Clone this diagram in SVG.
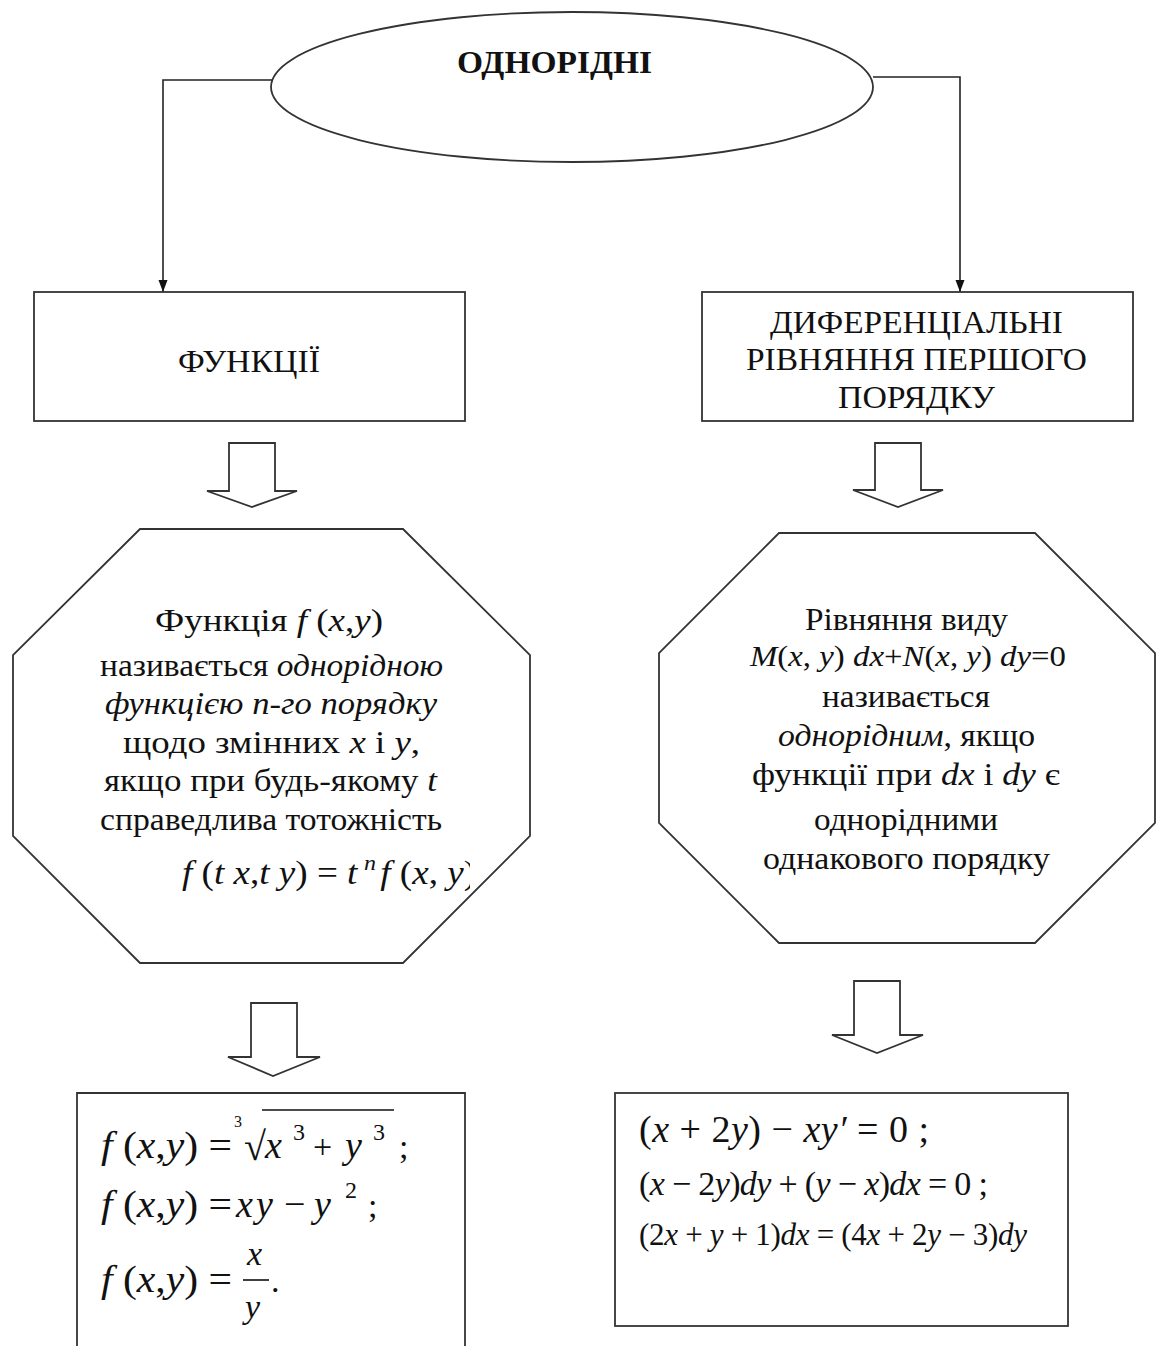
<svg xmlns="http://www.w3.org/2000/svg" width="1156" height="1346" viewBox="0 0 1156 1346">
<style>
.shape{fill:#fff;stroke:#333;stroke-width:1.8}
.conn{fill:none;stroke:#222;stroke-width:1.6}
.t{font-family:"Liberation Serif","Times New Roman",serif;fill:#111}
.c{text-anchor:middle}
.i{font-style:italic}
.b{font-size:32px}
</style>
<defs>
<marker id="arr" markerWidth="12" markerHeight="16" refX="16" refY="6" orient="auto" markerUnits="userSpaceOnUse" viewBox="0 0 16 12">
<path d="M0,0 L16,6 L0,12 Z" fill="#111"/>
</marker>
<clipPath id="clipL"><rect x="0" y="840" width="470" height="60"/></clipPath>
</defs>
<rect width="1156" height="1346" fill="#fff"/>

<g id="connectors">
<path class="conn" d="M272,80 L163,80 L163,292" marker-end="url(#arr)"/>
<path class="conn" d="M873,77 L960,77 L960,292" marker-end="url(#arr)"/>
<path id="blockArrow1" class="shape" d="M229,443 L275,443 L275,491 L297,491 L252,507 L207,491 L229,491 Z"/>
<path id="blockArrow2" class="shape" d="M875,443 L921,443 L921,490 L943,490 L898,507 L853,490 L875,490 Z"/>
<path id="blockArrow3" class="shape" d="M251,1003 L297,1003 L297,1057 L320,1057 L273,1076 L228,1057 L251,1057 Z"/>
<path id="blockArrow4" class="shape" d="M854,981 L900,981 L900,1035 L923,1035 L877,1053 L832,1035 L854,1035 Z"/>
</g>

<g id="node-root">
<ellipse class="shape" cx="572" cy="87" rx="301" ry="75"/>
<text class="t" x="457" y="73" font-size="32" font-weight="bold" textLength="195" lengthAdjust="spacingAndGlyphs">ОДНОРІДНІ</text>
</g>

<g id="node-functions">
<rect class="shape" x="34" y="292" width="431" height="129"/>
<text class="t" x="178" y="372" font-size="31" textLength="142" lengthAdjust="spacingAndGlyphs">ФУНКЦІЇ</text>
</g>

<g id="node-equations">
<rect class="shape" x="702" y="292" width="431" height="129"/>
<text class="t" x="770" y="333" font-size="31" textLength="293" lengthAdjust="spacingAndGlyphs">ДИФЕРЕНЦІАЛЬНІ</text>
<text class="t" x="746" y="370" font-size="31" textLength="341" lengthAdjust="spacingAndGlyphs">РІВНЯННЯ ПЕРШОГО</text>
<text class="t" x="838" y="408" font-size="31" textLength="157" lengthAdjust="spacingAndGlyphs">ПОРЯДКУ</text>
</g>

<g id="node-func-def">
<polygon class="shape" points="140,529 403,529 530,655 530,836 403,963 140,963 13,836 13,655"/>
<text class="t b" x="155" y="631" textLength="228" lengthAdjust="spacingAndGlyphs">Функція  <tspan class="i">f</tspan> (<tspan class="i">x</tspan>,<tspan class="i">y</tspan>)</text>
<text class="t b" x="100" y="676" textLength="343" lengthAdjust="spacingAndGlyphs">називається <tspan class="i">однорідною</tspan></text>
<text class="t b i" x="105" y="714" textLength="332" lengthAdjust="spacingAndGlyphs">функцією  n-го порядку</text>
<text class="t b" x="123" y="753" textLength="297" lengthAdjust="spacingAndGlyphs">щодо змінних  <tspan class="i">x</tspan>  і  <tspan class="i">y</tspan>,</text>
<text class="t b" x="104" y="791" textLength="333" lengthAdjust="spacingAndGlyphs">якщо при будь-якому  <tspan class="i">t</tspan></text>
<text class="t b" x="100" y="830" textLength="342" lengthAdjust="spacingAndGlyphs">справедлива тотожність</text>
<g clip-path="url(#clipL)">
<text class="t" x="182" y="884" font-size="34" textLength="294" lengthAdjust="spacingAndGlyphs"><tspan class="i">f</tspan> (<tspan class="i">t x</tspan>,<tspan class="i">t y</tspan>) = <tspan class="i">t</tspan><tspan class="i" font-size="22" dy="-14" dx="6">n</tspan><tspan class="i" dy="14" dx="4">f</tspan> (<tspan class="i">x</tspan>,<tspan class="i"> y</tspan>)</text>
</g>
</g>

<g id="node-eq-def">
<polygon class="shape" points="779,533 1035,533 1155,653 1155,823 1035,943 779,943 659,823 659,653"/>
<text class="t b" x="805" y="630" textLength="203" lengthAdjust="spacingAndGlyphs">Рівняння виду</text>
<text class="t" x="750" y="666" font-size="30" textLength="316" lengthAdjust="spacingAndGlyphs"><tspan class="i">M</tspan>(<tspan class="i">x</tspan>, <tspan class="i">y</tspan>) <tspan class="i">dx</tspan>+<tspan class="i">N</tspan>(<tspan class="i">x</tspan>, <tspan class="i">y</tspan>) <tspan class="i">dy</tspan>=0</text>
<text class="t b" x="822" y="707" textLength="168" lengthAdjust="spacingAndGlyphs">називається</text>
<text class="t b" x="778" y="746" textLength="257" lengthAdjust="spacingAndGlyphs"><tspan class="i">однорідним</tspan>, якщо</text>
<text class="t b" x="752" y="785" textLength="308" lengthAdjust="spacingAndGlyphs">функції при  <tspan class="i">dx</tspan>  і  <tspan class="i">dy</tspan>  є</text>
<text class="t b" x="814" y="830" textLength="184" lengthAdjust="spacingAndGlyphs">однорідними</text>
<text class="t b" x="763" y="869" textLength="287" lengthAdjust="spacingAndGlyphs">однакового порядку</text>
</g>

<g id="node-func-examples">
<path class="shape" d="M77,1346 L77,1093 L465,1093 L465,1346"/>
<text class="t" x="101" y="1158" font-size="38" textLength="131" lengthAdjust="spacingAndGlyphs"><tspan class="i">f</tspan> (<tspan class="i">x</tspan>,<tspan class="i">y</tspan>) =</text>
<text class="t" x="234" y="1127" font-size="16">3</text>
<text class="t" x="244" y="1160" font-size="40">√</text>
<line x1="262" y1="1110" x2="394" y2="1110" stroke="#111" stroke-width="1.6"/>
<text class="t i" x="265" y="1158" font-size="38">x</text>
<text class="t" x="293" y="1140" font-size="24">3</text>
<text class="t" x="313" y="1158" font-size="34">+</text>
<text class="t i" x="345" y="1158" font-size="38">y</text>
<text class="t" x="373" y="1140" font-size="24">3</text>
<text class="t" x="399" y="1158" font-size="34">;</text>
<text class="t" x="101" y="1217" font-size="38" textLength="131" lengthAdjust="spacingAndGlyphs"><tspan class="i">f</tspan> (<tspan class="i">x</tspan>,<tspan class="i">y</tspan>) =</text>
<text class="t i" x="236" y="1217" font-size="38">x</text>
<text class="t i" x="256" y="1217" font-size="38">y</text>
<text class="t" x="284" y="1217" font-size="38">−</text>
<text class="t i" x="314" y="1217" font-size="38">y</text>
<text class="t" x="345" y="1198" font-size="24">2</text>
<text class="t" x="368" y="1217" font-size="34">;</text>
<text class="t" x="101" y="1292" font-size="38" textLength="131" lengthAdjust="spacingAndGlyphs"><tspan class="i">f</tspan> (<tspan class="i">x</tspan>,<tspan class="i">y</tspan>) =</text>
<text class="t i" x="247" y="1265" font-size="34">x</text>
<line x1="243" y1="1280" x2="269" y2="1280" stroke="#111" stroke-width="1.6"/>
<text class="t i" x="245" y="1318" font-size="34">y</text>
<text class="t" x="271" y="1292" font-size="34">.</text>
</g>

<g id="node-eq-examples">
<rect class="shape" x="615" y="1093" width="453" height="233"/>
<text class="t" x="639" y="1142" font-size="38" textLength="290" lengthAdjust="spacing">(<tspan class="i">x</tspan> + 2<tspan class="i">y</tspan>) − <tspan class="i">xy′</tspan> = 0 ;</text>
<text class="t" x="639" y="1195" font-size="34" textLength="349" lengthAdjust="spacing">(<tspan class="i">x</tspan> − 2<tspan class="i">y</tspan>)<tspan class="i">dy</tspan> + (<tspan class="i">y</tspan> − <tspan class="i">x</tspan>)<tspan class="i">dx</tspan> = 0 ;</text>
<text class="t" x="639" y="1245" font-size="31" textLength="388" lengthAdjust="spacing">(2<tspan class="i">x</tspan> + <tspan class="i">y</tspan> + 1)<tspan class="i">dx</tspan> = (4<tspan class="i">x</tspan> + 2<tspan class="i">y</tspan> − 3)<tspan class="i">dy</tspan></text>
</g>
</svg>
